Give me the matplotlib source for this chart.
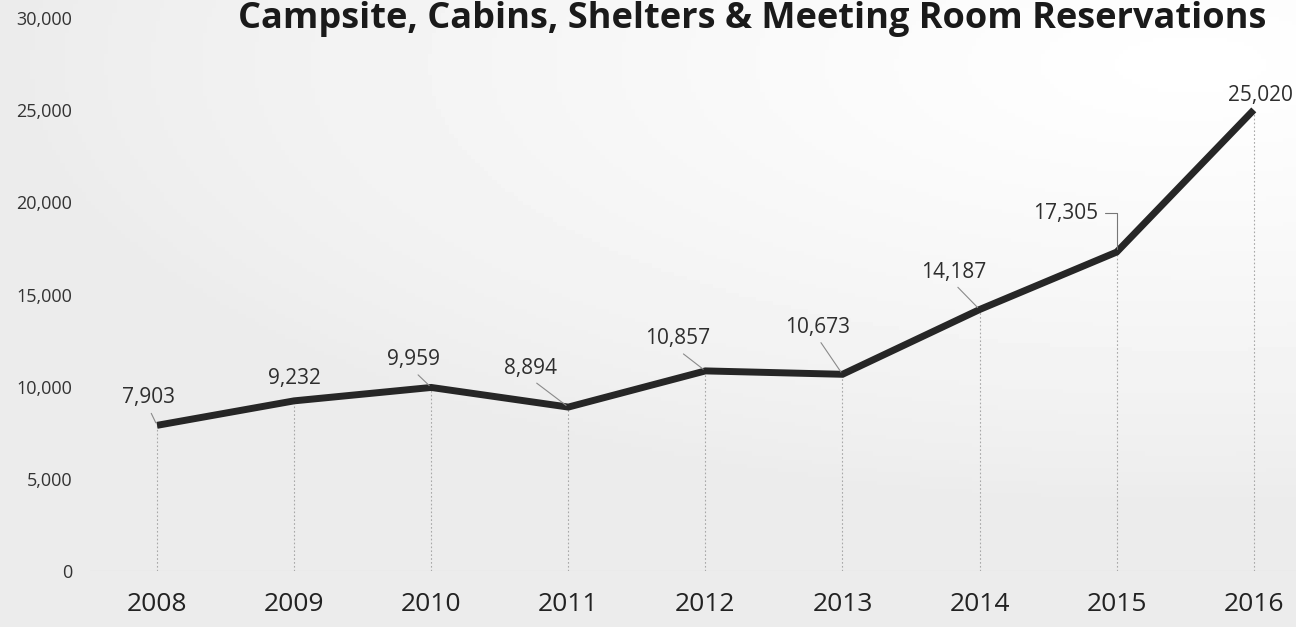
import matplotlib.pyplot as plt
import numpy as np

years = [2008, 2009, 2010, 2011, 2012, 2013, 2014, 2015, 2016]
reservations = [7903, 9232, 9959, 8894, 10857, 10673, 14187, 17305, 25020]
y_ticks = [0, 5000, 10000, 15000, 20000, 25000, 30000]
title = "Campsite, Cabins, Shelters & Meeting Room Reservations"

# label offsets in points (layout only)
label_offsets = [(-6, 20), (0, 16), (-13, 20), (-27, 28), (-20, 23),
                 (-18, 34), (-19, 27), (-37, 28), (5, 10)]
leader = [True, False, True, True, True, True, True, "elbow", False]

plt.rcParams['font.family'] = ['Open Sans', 'DejaVu Sans']

fig = plt.figure(figsize=(12.96, 6.27), dpi=100)

# soft paper-like background, lighter towards the upper right
bg = fig.add_axes([0, 0, 1, 1], zorder=-10)
gx, gy = np.meshgrid(np.linspace(0, 1, 300), np.linspace(0, 1, 150))
d = np.sqrt(((gx - 0.92) / 0.9) ** 2 + ((gy - 0.9) / 0.7) ** 2)
shade = 0.925 + 0.075 * np.clip(1 - d, 0, 1) ** 0.8
bg.imshow(shade, cmap='gray', vmin=0, vmax=1, extent=[0, 1, 0, 1],
          aspect='auto', origin='lower')
bg.axis('off')

ax = fig.add_axes([90 / 1296, 56 / 627, 1206 / 1296, 571 / 627])
ax.patch.set_alpha(0)
ax.set_xlim(2007.511, 2016.308)
ax.set_ylim(0, 30982)

for x, y in zip(years, reservations):
    ax.plot([x, x], [0, y], color='#a8a8a8', lw=0.8, ls=(0, (1.5, 2)), zorder=1)

ax.axhline(0, color='#cccccc', lw=0.8, zorder=1)
ax.plot(years, reservations, color='#262626', lw=5, solid_joinstyle='miter',
        solid_capstyle='butt', zorder=3)

for x, y, off, ld in zip(years, reservations, label_offsets, leader):
    if ld == "elbow":
        arrow = dict(arrowstyle='-', color='#777777', lw=0.8,
                     connectionstyle='angle,angleA=0,angleB=90,rad=0',
                     relpos=(1.0, 0.5), shrinkA=3, shrinkB=2)
    elif ld:
        arrow = dict(arrowstyle='-', color='#8a8a8a', lw=0.8,
                     relpos=(0.5, 0.0), shrinkA=2, shrinkB=2)
    else:
        arrow = None
    ax.annotate(f"{y:,}", xy=(x, y), xytext=off, textcoords='offset points',
                ha='center', va='center', fontsize=15, color='#2e2e2e',
                arrowprops=arrow, zorder=4)

ax.set_yticks(y_ticks)
ax.set_yticklabels([f"{v:,}" for v in y_ticks])
ax.set_xticks(years)
ax.set_xticklabels([str(v) for v in years])
ax.tick_params(axis='y', length=0, pad=13, labelsize=13, labelcolor='#333333')
ax.tick_params(axis='x', length=0, pad=15, labelsize=19, labelcolor='#222222')
for s in ax.spines.values():
    s.set_visible(False)

fig.text(752 / 1296, 1 - 28 / 627, title, ha='center', va='baseline',
         fontsize=26, fontweight='bold', color='#1a1a1a')

fig.savefig('out.png', dpi=100)
